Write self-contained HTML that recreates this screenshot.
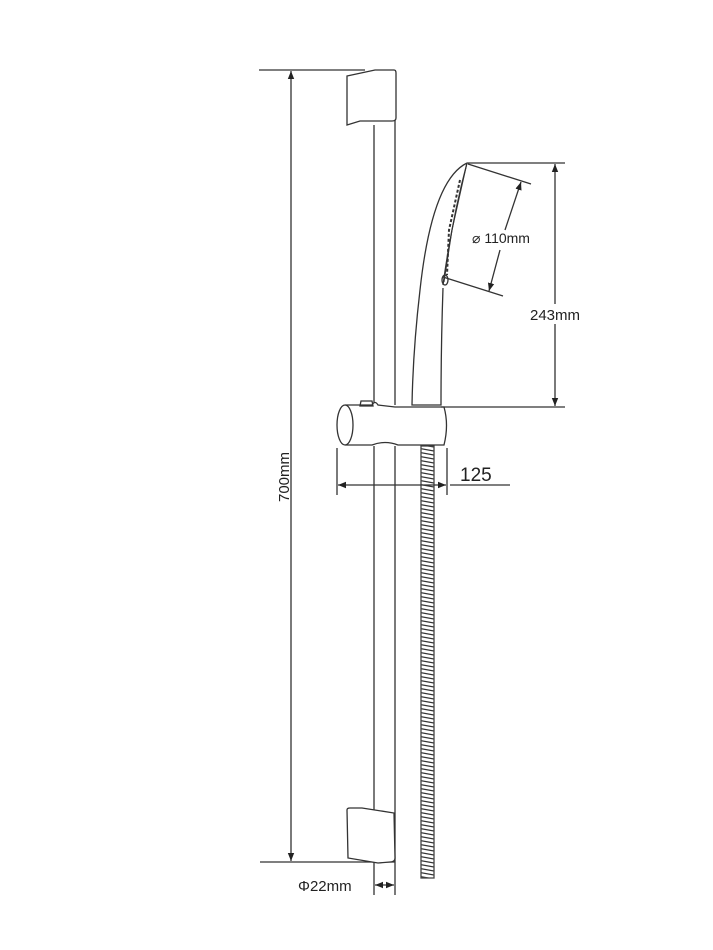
<!DOCTYPE html>
<html><head><style>body{margin:0;background:#fff}svg{display:block}</style></head>
<body>
<svg width="713" height="950" viewBox="0 0 713 950" xmlns="http://www.w3.org/2000/svg" font-family="Liberation Sans, sans-serif">
<defs>
<marker id="a" viewBox="0 0 10 10" refX="10" refY="5" markerWidth="8" markerHeight="8" orient="auto-start-reverse" markerUnits="userSpaceOnUse"><path d="M0,1 L10,5 L0,9 Z" fill="#222"/></marker>
<pattern id="hose" width="14" height="4" patternUnits="userSpaceOnUse"><path d="M0,0.5 L14,3" stroke="#333" stroke-width="1.2"/></pattern>
</defs>
<g stroke="#333" fill="none" stroke-width="1.3">
<line x1="259" y1="70" x2="365" y2="70"/>
<line x1="260" y1="862" x2="395" y2="862"/>
<line x1="291" y1="71" x2="291" y2="861" marker-start="url(#a)" marker-end="url(#a)"/>
<line x1="374" y1="125" x2="374" y2="405"/>
<line x1="395" y1="70" x2="395" y2="405"/>
<line x1="374" y1="446" x2="374" y2="895"/>
<line x1="395" y1="446" x2="395" y2="895"/>
<path d="M347,76 L375,70 L394,70 Q396,70 396,73 L396,118 Q396,121 392,121 L360,121 L347,125 Z" fill="#fff"/>
<path d="M347,810 Q347,808 350,808 L362,808 L394,813 L395,858 Q395,862 390,862 L378,863 L348,858 Z" fill="#fff"/>
<rect x="421" y="446" width="13" height="432" fill="url(#hose)" stroke="#444"/>
<path d="M345,405 L372,405 Q375,400 378,405 L395,407 L444,407 Q449,425 444,445 L398,445 Q385,440 372,445 L345,445" fill="#fff"/>
<ellipse cx="345" cy="425" rx="8" ry="20" fill="#fff"/>
<path d="M361,401 L372,401 L373,406 L360,406 Z"/>
<line x1="337" y1="448" x2="337" y2="495"/>
<line x1="447" y1="448" x2="447" y2="495"/>
<line x1="338" y1="485" x2="446" y2="485" marker-start="url(#a)" marker-end="url(#a)"/>
<line x1="450" y1="485" x2="510" y2="485"/>
<line x1="375" y1="885" x2="394" y2="885" marker-start="url(#a)" marker-end="url(#a)"/>
<path d="M467,163 Q432,180 420,290 Q413,350 412,405 L441,405 Q441,345 443,288" fill="#fff"/>
<path d="M467,163 Q452,220 443,285"/>
<path d="M467,163 L452,230 L444,282" stroke-width="1"/>
<path d="M460,180 L449,230 L447,275" stroke-dasharray="3,2" stroke-width="2"/>
<ellipse cx="445" cy="280" rx="3" ry="5"/>
<line x1="467" y1="163" x2="565" y2="163"/>
<line x1="441" y1="407" x2="565" y2="407"/>
<line x1="555" y1="164" x2="555" y2="406" marker-start="url(#a)" marker-end="url(#a)"/>
<line x1="468" y1="164" x2="531" y2="184"/>
<line x1="443" y1="277" x2="503" y2="296"/>
<line x1="521" y1="182" x2="505" y2="230" marker-start="url(#a)"/>
<line x1="500" y1="250" x2="489" y2="291" marker-end="url(#a)"/>
</g>
<rect x="528" y="304" width="58" height="20" fill="#fff"/>
<g fill="#222" font-size="14">
<text x="472" y="243" font-size="14">⌀ 110mm</text>
<text x="530" y="320" font-size="15">243mm</text>
<text x="460" y="481" font-size="19">125</text>
<text x="298" y="891" font-size="15">Φ22mm</text>
<text transform="translate(289,502) rotate(-90)" font-size="15">700mm</text>
</g>
</svg>
</body></html>
